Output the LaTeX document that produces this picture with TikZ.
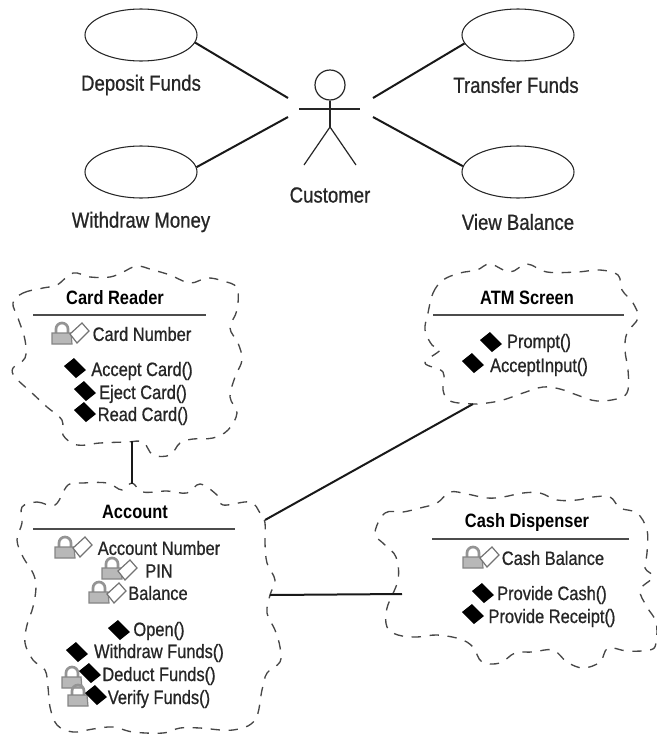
\documentclass[tikz,border=0pt]{standalone}
\usepackage{fontspec}
\setmainfont[FakeStretch=0.85,UprightFeatures={FakeBold=0.8}]{Liberation Sans}
\usetikzlibrary{shapes.geometric}
\definecolor{ink}{gray}{0.15}
\definecolor{cloudink}{gray}{0.28}
\tikzset{
  usecase/.style={draw=ink,ellipse,line width=.8pt,minimum width=84pt,minimum height=39pt,inner sep=0pt},
  uclabel/.style={inner sep=0pt,text=ink,font=\fontsize{16.4}{19}\selectfont},
  member/.style={inner sep=0pt,text=ink,font=\fontsize{14.5}{16}\selectfont},
  classtitle/.style={inner sep=0pt,text=black,font=\bfseries\fontsize{14.5}{16}\selectfont},
  link/.style={draw=black!90,line width=1.5pt},
  actorline/.style={draw=ink,line width=.9pt},
  titlerule/.style={draw=black!70,line width=1.7pt},
  cloudline/.style={draw=cloudink,line width=1pt,dash pattern=on 7pt off 6.5pt},
  lockmark/.pic={
    \draw[black!42,line width=2pt] (-6,1) -- (-6,-4) arc[start angle=180,end angle=0,x radius=6,y radius=-6] -- (6,1);
    \draw[black!48,fill=black!28,line width=.9pt] (-10,0) -- (9,0) -- (10,11) -- (-10,11) -- cycle;
  },
  keymark/.pic={
    \draw[black!55,fill=white,line width=.9pt] (-10,1) -- (2,-10) -- (9,-2) -- (-3,10) -- cycle;
  },
  opmark/.pic={
    \fill[black] (-11,-2) -- (-1,-10) -- (11,2) -- (1,10) -- cycle;
  }
}
\begin{document}
\begin{tikzpicture}[x=.75pt,y=-.75pt]
\useasboundingbox (0,0) rectangle (657,736);
% use cases
\node[usecase] (deposit) at (141,35) {};
\node[usecase] (withdraw) at (141,172) {};
\node[usecase] (transfer) at (518,35) {};
\node[usecase] (viewbal) at (518,172) {};
\node[uclabel] (depositL) at (141,85) {Deposit Funds};
\node[uclabel] (withdrawL) at (141,222) {Withdraw Money};
\node[uclabel] (transferL) at (516,85) {Transfer Funds};
\node[uclabel] (viewbalL) at (518,222) {View Balance};
\node[uclabel] (customerL) at (330,195) {Customer};
% actor
\node[draw=ink,circle,line width=.9pt,minimum size=22.5pt,inner sep=0pt] (head) at (330,85) {};
\coordinate (neck) at (330,109);
\coordinate (hip) at (330,127);
\coordinate (handL) at (299,109);
\coordinate (handR) at (360,109);
\coordinate (footL) at (304,165);
\coordinate (footR) at (356,165);
\draw[actorline] (head.south) -- (hip);
\draw[actorline] (handL) -- (handR);
\draw[actorline] (footL) -- (hip) -- (footR);
\coordinate (custNW) at (288,98);
\coordinate (custSW) at (288,117);
\coordinate (custNE) at (373,98);
\coordinate (custSE) at (373,117);
\draw[link] (deposit.-8) -- (custNW);
\draw[link] (withdraw.5) -- (custSW);
\draw[link] (transfer.189) -- (custNE);
\draw[link] (viewbal.174) -- (custSE);
% clouds
\draw[cloudline] plot[smooth cycle,tension=.6] coordinates {
(13,303)(23,293)(43,288)(57,285)(73,273)(90,277)(110,277)(123,272)(137,266)(153,270)(170,275)(190,283)(207,278)(223,281)(237,288)(237,310)(230,328)(238,343)(242,360)(235,377)(230,397)(237,413)(228,430)(213,438)(193,439)(180,443)(170,455)(153,455)(143,442)(127,442)(100,443)(77,445)(63,435)(62,420)(47,407)(32,393)(15,377)(13,368)(25,358)(25,340)(18,318)};
\draw[cloudline] plot[smooth cycle,tension=.6] coordinates {
(22,507)(37,502)(55,505)(68,485)(83,483)(107,483)(122,490)(132,483)(143,492)(167,491)(187,493)(200,484)(217,495)(223,505)(250,502)(260,513)(265,523)(265,543)(267,563)(275,580)(270,595)(267,613)(275,630)(280,647)(280,662)(267,673)(262,690)(255,720)(233,730)(200,728)(180,728)(163,733)(133,732)(113,727)(93,729)(73,732)(57,725)(50,707)(48,687)(45,670)(33,660)(25,643)(27,625)(33,607)(36,587)(33,573)(23,557)(17,540)(22,523)};
\draw[cloudline] plot[smooth cycle,tension=.6] coordinates {
(428,313)(433,293)(443,280)(460,273)(477,270)(490,264)(510,272)(527,264)(547,272)(577,272)(600,270)(618,275)(622,290)(633,303)(638,318)(627,333)(625,350)(628,370)(628,390)(620,398)(597,401)(577,395)(560,389)(543,387)(523,393)(503,400)(487,403)(473,404)(450,401)(443,390)(443,372)(425,363)(440,350)(432,345)(425,330)};
\draw[cloudline] plot[smooth cycle,tension=.6] coordinates {
(375,533)(385,513)(403,512)(420,508)(437,503)(450,492)(467,494)(487,498)(503,497)(523,493)(540,493)(557,500)(577,500)(593,497)(610,497)(620,508)(637,513)(647,530)(647,553)(645,568)(653,577)(640,590)(647,607)(656,622)(656,643)(650,650)(627,651)(608,648)(600,662)(583,668)(567,662)(553,650)(533,652)(515,653)(500,663)(482,662)(473,647)(460,639)(437,635)(417,637)(398,635)(387,627)(387,608)(398,580)(396,557)(385,545)};
% connectors between classes
\coordinate (readerS) at (132,441);
\coordinate (accountN) at (132,484);
\coordinate (accountNE) at (265,520);
\coordinate (atmSW) at (473,404);
\coordinate (accountE) at (270,595);
\coordinate (cashW) at (402,594);
\draw[link] (readerS) -- (accountN);
\draw[link] (accountNE) -- (atmSW);
\draw[link] (accountE) -- (cashW);
% Card Reader
\node[classtitle] (readerT) at (115,298) {Card Reader};
\coordinate (readerRa) at (33,315); \coordinate (readerRb) at (206,315);
\draw[titlerule] (readerRa) -- (readerRb);
\pic at (62,333) {lockmark}; \pic at (80,333) {keymark};
\node[member] (readerA) at (142,334) {Card Number};
\pic at (75,368) {opmark};
\node[member] (readerB) at (142,371) {Accept Card()};
\pic at (85,391) {opmark};
\node[member] (readerC) at (143,394) {Eject Card()};
\pic at (85,412) {opmark};
\node[member] (readerD) at (143,416) {Read Card()};
% Account
\node[classtitle] (accT) at (135,512) {Account};
\coordinate (accRa) at (33,529); \coordinate (accRb) at (235,529);
\draw[titlerule] (accRa) -- (accRb);
\pic at (65,547) {lockmark}; \pic at (83,547) {keymark};
\node[member] (accA) at (159,548) {Account Number};
\pic at (112,568) {lockmark}; \pic at (128,570) {keymark};
\node[member] (accB) at (159,571) {PIN};
\pic at (99,592) {lockmark}; \pic at (117,593) {keymark};
\node[member] (accC) at (158,593) {Balance};
\pic at (119,630) {opmark};
\node[member] (accD) at (159,631) {Open()};
\pic at (77,652) {opmark};
\node[member] (accE) at (159,653) {Withdraw Funds()};
\pic at (72,677) {lockmark}; \pic at (90,673) {opmark};
\node[member] (accF) at (159,676) {Deduct Funds()};
\pic at (78,695) {lockmark}; \pic at (96,695) {opmark};
\node[member] (accG) at (159,699) {Verify Funds()};
% ATM Screen
\node[classtitle] (atmT) at (527,298) {ATM Screen};
\coordinate (atmRa) at (433,315); \coordinate (atmRb) at (624,315);
\draw[titlerule] (atmRa) -- (atmRb);
\pic at (491,342) {opmark};
\node[member] (atmA) at (539,343) {Prompt()};
\pic at (473,363) {opmark};
\node[member] (atmB) at (539,367) {AcceptInput()};
% Cash Dispenser
\node[classtitle] (cashT) at (527,522) {Cash Dispenser};
\coordinate (cashRa) at (432,539); \coordinate (cashRb) at (629,539);
\draw[titlerule] (cashRa) -- (cashRb);
\pic at (473,557) {lockmark}; \pic at (490,557) {keymark};
\node[member] (cashA) at (553,558) {Cash Balance};
\pic at (483,593) {opmark};
\node[member] (cashB) at (552,595) {Provide Cash()};
\pic at (473,614) {opmark};
\node[member] (cashC) at (552,618) {Provide Receipt()};
\end{tikzpicture}
\end{document}
